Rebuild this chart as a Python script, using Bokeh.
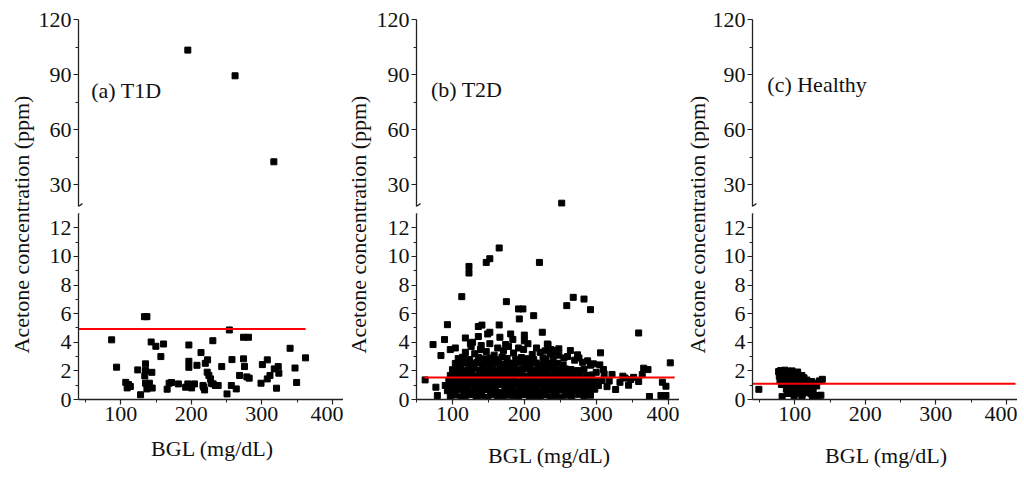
from math import pi
from bokeh.plotting import figure
from bokeh.models import Range1d, FixedTicker, Arrow, Label
from bokeh.layouts import row, column
from bokeh.embed import file_html
from bokeh.resources import INLINE

FONT = "Liberation Serif"

# ---------------- data ----------------
panel_titles = ["(a) T1D", "(b) T2D", "(c) Healthy"]
y_title = "Acetone concentration (ppm)"
x_title = "BGL (mg/dL)"
x_ticks = [100, 200, 300, 400]
x_minor = [50, 150, 250, 350]
y_low_ticks = [0, 2, 4, 6, 8, 10, 12]
y_low_minor = [1, 3, 5, 7, 9, 11]
y_up_ticks = [30, 60, 90, 120]
y_up_minor = [45, 75, 105]

# (a) T1D, lower segment
t1d_x = [87, 94, 107, 111, 113.5, 109, 124, 128, 133.5, 137,
         135, 135, 134, 135, 137, 140.5, 143, 144, 144.5, 149.7,
         156.8, 160.6, 165.7, 168.5, 171.8, 181.6, 191.9, 196.5, 196.5, 196.5,
         195, 199, 200.4, 204.5, 208, 213.7, 217.4, 218.8, 216.5, 219.8,
         223, 222.5, 224.9, 227.2, 228.1, 230.5, 230.9, 234.2, 238, 243.1,
         250.6, 253.9, 256.7, 257.6, 263.7, 268.4, 274, 281, 274, 275.4,
         278.7, 282, 298.8, 300.7, 307.7, 307.7, 311.5, 317.6, 320.8, 323.2,
         324.1, 340, 347, 349.3, 361.9]
t1d_y = [4.17, 2.26, 1.20, 1.04, 0.91, 0.81, 2.07, 0.33, 5.79, 5.79,
         2.49, 2.02, 1.65, 1.14, 0.74, 1.14, 4.02, 1.90, 0.80, 3.72,
         3.00, 3.88, 0.72, 1.14, 1.19, 1.09, 0.86, 3.81, 2.67, 2.25,
         1.09, 0.98, 0.81, 1.09, 2.39, 3.28, 0.86, 0.67, 0.98, 2.53,
         2.77, 1.91, 1.68, 1.44, 1.14, 4.11, 1.09, 0.98, 0.98, 2.30,
         0.39, 4.86, 0.98, 2.79, 0.74, 1.68, 4.35, 4.35, 2.84, 2.30,
         1.58, 1.49, 1.14, 2.44, 2.77, 1.44, 1.68, 2.14, 0.79, 2.30,
         1.84, 3.58, 2.20, 1.19, 2.91]
# (a) T1D, upper segment
t1d_up_x = [195, 262, 317]
t1d_up_y = [103.3, 89.3, 42.4]
t1d_mean_x = [40, 362]
t1d_mean_y = [4.92, 4.92]

# (b) T2D, lower segment (dense cluster rows + scattered points)
t2d_x = [
    97, 104, 112, 118, 127, 133, 141, 149, 155, 163, 170, 178, 186, 192, 199, 207, 214, 222, 229, 236, 244, 251, 259, 266, 275, 283, 292,
    93, 101, 108, 116, 123, 131, 138, 146, 153, 160, 168, 175, 183, 190, 197, 205, 212, 219, 227, 234, 242, 249, 257, 264, 272, 281, 289, 298,
    90, 98, 106, 113, 121, 128, 136, 143, 151, 158, 165, 173, 180, 188, 195, 202, 210, 217, 225, 232, 240, 247, 255, 262, 270, 278, 286, 295, 303,
    95, 103, 110, 118, 125, 133, 140, 148, 155, 162, 170, 177, 185, 192, 200, 207, 214, 222, 229, 237, 244, 252, 259, 267, 274, 282, 290, 299, 308, 318,
    97, 105, 112, 120, 127, 135, 142, 150, 157, 164, 172, 179, 187, 194, 201, 209, 216, 224, 231, 239, 246, 254, 261, 269, 277, 286, 294,
    100, 108, 115, 123, 130, 138, 145, 153, 160, 167, 175, 182, 190, 197, 204, 212, 219, 227, 234, 242, 249, 257, 265, 274, 283,
    104, 111, 119, 127, 134, 142, 149, 157, 164, 171, 179, 186, 194, 201, 208, 216, 223, 231, 238, 246, 254,
    108, 117, 124, 136, 144, 153, 161, 169, 176, 188, 196, 205, 213, 226, 240,
    118, 131, 147, 158, 171, 185, 199, 211, 222, 236, 248, 255, 270, 281, 292, 310, 322, 300, 315, 327, 333, 340, 345, 352,
    104, 126, 139, 152, 163, 178, 192, 205, 217, 229, 244, 260, 276, 288, 114, 230,
    62, 77, 79, 73, 84, 89, 93, 97, 113, 123,
    123, 118, 125, 128, 136, 141, 136, 147, 152, 165,
    149, 152, 165, 140, 166, 175, 181, 184, 174, 192,
    198, 193, 200, 200, 213, 221, 225, 232, 233, 237,
    243, 248, 259, 268, 283, 292, 264, 274, 306, 296,
    305, 311, 359, 337, 348, 359, 366, 372, 364, 403,
    374, 390, 397, 392, 397]
t2d_y = [
    0.22, 0.31, 0.18, 0.27, 0.35, 0.20, 0.29, 0.15, 0.33, 0.24, 0.19, 0.30, 0.26, 0.21, 0.34, 0.17, 0.28, 0.23, 0.32, 0.20, 0.27, 0.16, 0.30, 0.25, 0.36, 0.22, 0.30,
    0.62, 0.55, 0.68, 0.60, 0.52, 0.66, 0.58, 0.70, 0.57, 0.64, 0.50, 0.67, 0.61, 0.56, 0.69, 0.59, 0.65, 0.53, 0.63, 0.70, 0.58, 0.66, 0.54, 0.62, 0.68, 0.57, 0.61, 0.72,
    0.98, 0.92, 1.02, 0.95, 0.90, 1.05, 0.97, 0.93, 1.00, 0.96, 1.04, 0.91, 0.99, 1.03, 0.94, 1.01, 0.97, 0.90, 1.06, 0.95, 1.00, 0.93, 0.98, 1.04, 0.92, 0.99, 1.02, 0.95, 0.97,
    1.32, 1.27, 1.36, 1.30, 1.25, 1.38, 1.29, 1.34, 1.26, 1.40, 1.31, 1.28, 1.35, 1.24, 1.37, 1.30, 1.33, 1.27, 1.39, 1.29, 1.34, 1.26, 1.36, 1.31, 1.28, 1.35, 1.30, 1.25, 1.33, 1.29,
    1.68, 1.74, 1.66, 1.72, 1.78, 1.65, 1.71, 1.76, 1.69, 1.73, 1.67, 1.79, 1.70, 1.75, 1.64, 1.72, 1.77, 1.68, 1.74, 1.70, 1.66, 1.76, 1.71, 1.69, 1.73, 1.67, 1.72,
    2.08, 2.14, 2.05, 2.12, 2.18, 2.06, 2.10, 2.16, 2.03, 2.13, 2.09, 2.17, 2.07, 2.11, 2.15, 2.04, 2.12, 2.08, 2.16, 2.10, 2.06, 2.14, 2.09, 2.02, 2.11,
    2.52, 2.46, 2.55, 2.49, 2.58, 2.44, 2.53, 2.50, 2.57, 2.45, 2.54, 2.48, 2.56, 2.51, 2.43, 2.55, 2.47, 2.52, 2.46, 2.53, 2.41,
    2.86, 2.92, 2.80, 2.95, 2.84, 2.90, 2.78, 2.97, 2.87, 2.82, 2.93, 2.85, 2.79, 2.90, 2.83,
    3.30, 3.20, 3.35, 3.10, 3.40, 3.25, 3.50, 3.15, 3.30, 3.20, 3.10, 2.90, 2.75, 2.60, 2.40, 2.10, 1.75, 1.90, 0.90, 0.70, 1.20, 1.50, 1.00, 1.55,
    3.60, 3.70, 3.50, 3.90, 3.60, 3.70, 3.60, 3.90, 3.60, 3.40, 3.30, 3.00, 2.90, 2.70, 2.95, 2.80,
    1.37, 0.86, 0.28, 3.84, 3.07, 4.19, 5.23, 3.49, 7.19, 9.30,
    8.84, 4.30, 3.90, 4.00, 5.10, 5.20, 4.40, 9.58, 9.84, 10.59,
    4.58, 4.70, 5.21, 3.77, 4.35, 6.84, 4.58, 4.20, 3.84, 6.33,
    6.33, 5.63, 4.50, 4.10, 5.86, 9.58, 4.70, 3.88, 3.84, 3.49,
    3.42, 3.54, 6.56, 7.14, 7.02, 6.28, 3.42, 3.12, 3.26, 2.49,
    2.42, 1.79, 4.65, 1.63, 1.40, 1.26, 2.19, 2.09, 1.74, 2.56,
    0.21, 0.28, 0.28, 1.21, 0.93]
t2d_up_x = [252]
t2d_up_y = [19.8]
t2d_mean_x = [61, 409]
t2d_mean_y = [1.53, 1.53]

# (c) Healthy, lower segment
healthy_x = [77, 80, 83, 86, 90, 93, 96, 100, 104,
             78, 82, 85, 88, 92, 95, 99, 103, 107, 110,
             79, 84, 87, 91, 94, 98, 101, 105, 109, 113, 117,
             81, 86, 89, 93, 97, 102, 106, 111, 115, 120, 124, 128,
             88, 90, 92, 96, 100, 104, 108, 112, 117, 121, 126, 131,
             90, 95, 99, 103, 107, 111, 115, 119, 123,
             82, 99, 110, 125, 135, 139, 49, 133, 129, 137]
healthy_y = [1.95, 2.02, 1.90, 2.05, 1.98, 1.93, 2.00, 1.88, 1.92,
             1.62, 1.70, 1.55, 1.75, 1.60, 1.72, 1.66, 1.78, 1.58, 1.68,
             1.35, 1.42, 1.30, 1.45, 1.38, 1.50, 1.33, 1.47, 1.40, 1.52, 1.36,
             1.05, 1.12, 0.98, 1.15, 1.08, 1.02, 1.18, 1.10, 1.20, 1.06, 1.25, 1.14,
             0.72, 0.80, 0.66, 0.85, 0.75, 0.90, 0.70, 0.82, 0.78, 0.88, 0.68, 0.95,
             0.42, 0.50, 0.35, 0.55, 0.45, 0.38, 0.52, 0.48, 0.40,
             0.20, 0.13, 0.22, 0.15, 1.30, 1.41, 0.71, 0.28, 0.18, 0.30]
healthy_up_x = []
healthy_up_y = []
healthy_mean_x = [40, 413]
healthy_mean_y = [1.1, 1.1]

panel_x_start = [40, 50, 40]
title_pos = [(58, 81.2), (70, 81.8), (61, 84.5)]

LINE = "#222222"
TXT = "#111111"


def style_axis(ax):
    ax.axis_line_color = LINE
    ax.axis_line_width = 1.3
    ax.major_tick_line_color = LINE
    ax.minor_tick_line_color = LINE
    ax.major_tick_line_width = 1.2
    ax.minor_tick_line_width = 1.0
    ax.major_tick_out = 5
    ax.major_tick_in = 0
    ax.minor_tick_out = 3
    ax.minor_tick_in = 0
    ax.major_label_text_font = FONT
    ax.major_label_text_font_size = "22px"
    ax.major_label_text_color = TXT
    ax.major_label_standoff = 2
    ax.axis_label_text_font = FONT
    ax.axis_label_text_font_size = "22px"
    ax.axis_label_text_font_style = "normal"
    ax.axis_label_text_color = TXT


def clean(p):
    p.outline_line_color = None
    p.xgrid.visible = False
    p.ygrid.visible = False


def make_panel(i, xs, ys, ux, uy, mx, my, frame_w, label_w, label_cx, xlabel_standoff):
    x0 = panel_x_start[i]
    xr = Range1d(x0, 420)
    d = 5.6

    up = figure(frame_width=frame_w, frame_height=187, x_range=xr, y_range=Range1d(18, 120),
                x_axis_location=None, output_backend="svg", toolbar_location=None,
                min_border_left=40, min_border_right=0, min_border_top=19, min_border_bottom=4)
    clean(up)
    ua = up.yaxis[0]
    style_axis(ua)
    ua.ticker = FixedTicker(ticks=y_up_ticks, minor_ticks=y_up_minor)
    up.add_layout(Arrow(end=None, x_start=x0 - d, y_start=16.36, x_end=x0 + d, y_end=19.64,
                        line_color=LINE, line_width=1.4))
    if len(ux):
        up.scatter(ux, uy, marker="square", size=6, color="black")
    tx, ty = title_pos[i]
    up.add_layout(Label(x=tx, y=ty, text=panel_titles[i], text_font=FONT,
                        text_font_size="22px", text_color=TXT, text_baseline="alphabetic"))

    low = figure(frame_width=frame_w, frame_height=186, x_range=xr, y_range=Range1d(0, 13),
                 output_backend="svg", toolbar_location=None,
                 min_border_left=40, min_border_right=0, min_border_top=3, min_border_bottom=74)
    clean(low)
    la = low.yaxis[0]
    style_axis(la)
    la.ticker = FixedTicker(ticks=y_low_ticks, minor_ticks=y_low_minor)
    xa = low.xaxis[0]
    style_axis(xa)
    xa.ticker = FixedTicker(ticks=x_ticks, minor_ticks=x_minor)
    xa.axis_label = x_title
    xa.axis_label_standoff = xlabel_standoff
    low.add_layout(Arrow(end=None, x_start=x0 - d, y_start=12.79, x_end=x0 + d, y_end=13.21,
                         line_color=LINE, line_width=1.4))
    low.scatter(xs, ys, marker="square", size=6, color="black")
    low.line(mx, my, color="red", line_width=2)

    lab = figure(width=label_w, height=473, x_range=Range1d(0, label_w), y_range=Range1d(0, 473),
                 x_axis_location=None, y_axis_location=None, output_backend="svg",
                 toolbar_location=None, min_border=0)
    clean(lab)
    lab.add_layout(Label(x=label_cx, y=249, text=y_title, angle=pi / 2, text_align="center",
                         text_baseline="middle", text_font=FONT, text_font_size="22px",
                         text_color=TXT))
    return row(lab, column(up, low))


pa = make_panel(0, t1d_x, t1d_y, t1d_up_x, t1d_up_y, t1d_mean_x, t1d_mean_y, 268, 35, 20.5, 12)
pb = make_panel(1, t2d_x, t2d_y, t2d_up_x, t2d_up_y, t2d_mean_x, t2d_mean_y, 266, 27, 12, 19)
pc = make_panel(2, healthy_x, healthy_y, healthy_up_x, healthy_up_y, healthy_mean_x, healthy_mean_y, 268, 27, 15, 19)

layout = row(pa, pb, pc)
open("out.html", "w").write(file_html(layout, INLINE))
